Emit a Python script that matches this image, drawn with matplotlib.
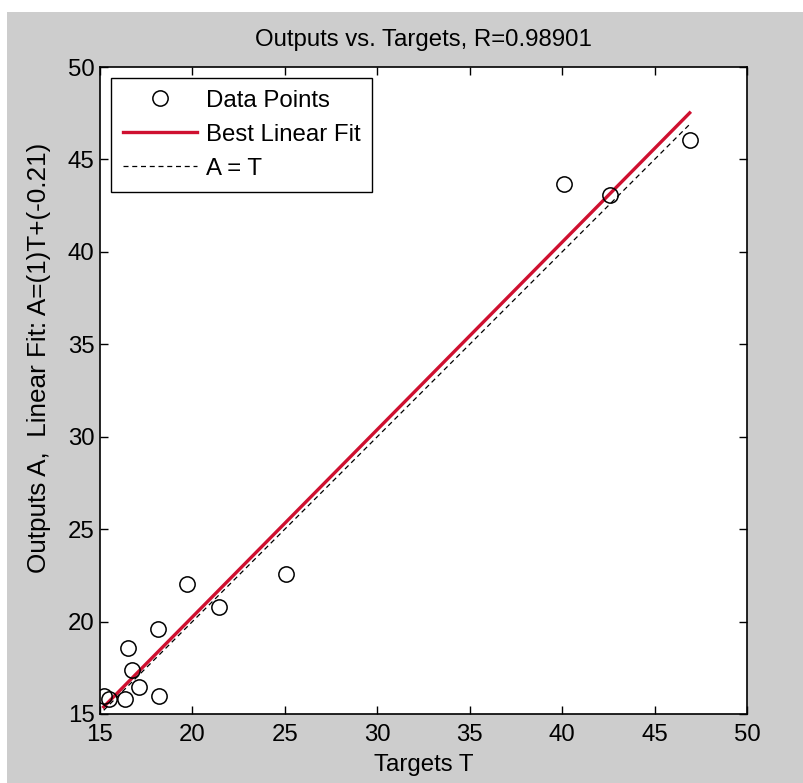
import numpy as np
from matplotlib import pyplot as plt
from matplotlib.patches import Rectangle

# targets (T) and network outputs (A)
targets = [15.2, 15.5, 16.35, 17.1, 16.75, 16.5, 18.15, 18.2, 19.7, 21.45, 25.05, 40.1, 42.6, 46.9]
outputs = [15.95, 15.8, 15.8, 16.45, 17.4, 18.55, 19.6, 16.0, 22.05, 20.8, 22.55, 43.65, 43.1, 46.05]
ticks = [15, 20, 25, 30, 35, 40, 45, 50]

plt.rcParams['font.family'] = ['Liberation Sans', 'DejaVu Sans']
FS = 17.3

T = np.array(targets)
A = np.array(outputs)
m, b = np.polyfit(T, A, 1)
xs = np.array([T.min(), T.max()])

fig = plt.figure(figsize=(8.04, 7.83), dpi=100)
fig.patch.set_facecolor('#cdcdcd')
# white strip at the top and left edge of the screenshot
fig.patches.append(Rectangle((0, 1 - 12 / 783), 1, 12 / 783, transform=fig.transFigure,
                             facecolor='white', edgecolor='none', zorder=-1))
fig.patches.append(Rectangle((0, 0), 7 / 804, 1, transform=fig.transFigure,
                             facecolor='white', edgecolor='none', zorder=-1))

ax = fig.add_axes([100 / 804, 69 / 783, 647 / 804, 647 / 783])
ax.plot(T, A, 'o', mfc='none', mec='black', ms=11, mew=1.1, label='Data Points', zorder=3)
ax.plot(xs, m * xs + b, color='#cf1030', lw=2.4, label='Best Linear Fit', zorder=2)
ax.plot(xs, xs, color='black', lw=0.9, ls=(0, (4, 3)), label='A = T', zorder=2)

ax.set_xlim(15, 50)
ax.set_ylim(15, 50)
ax.set_xticks(ticks)
ax.set_yticks(ticks)
ax.tick_params(direction='in', length=6, width=1, labelsize=FS, top=True, right=True)
ax.tick_params(axis='x', pad=7)
ax.tick_params(axis='y', pad=4)
for s in ax.spines.values():
    s.set_linewidth(1.2)

ax.text(0.5, 1 + 27 / 647, 'Outputs vs. Targets, R=0.98901', transform=ax.transAxes,
        ha='center', va='center', fontsize=FS)
ax.set_xlabel('Targets T', fontsize=FS, va='center')
ax.xaxis.set_label_coords(0.5, -51 / 647)
ax.set_ylabel('Outputs A,  Linear Fit: A=(1)T+(-0.21)', fontsize=FS + 1.5, va='center')
ax.yaxis.set_label_coords(-61 / 647, 0.5 + 33 / 647)

leg = ax.legend(loc='upper left', fontsize=FS, fancybox=False, framealpha=1,
                edgecolor='black', borderaxespad=0.45, handlelength=3.1,
                handletextpad=0.35, borderpad=0.5, labelspacing=0.5)
leg.get_frame().set_linewidth(1.0)

plt.savefig('out.png', dpi=100, facecolor=fig.get_facecolor())
